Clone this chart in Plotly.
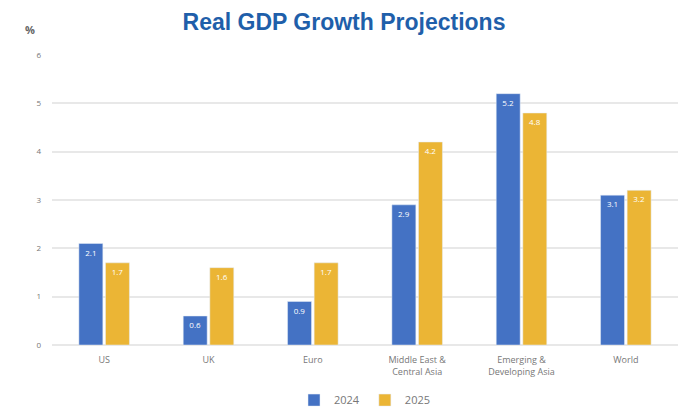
import plotly.graph_objects as go

categories = ["US", "UK", "Euro", "Middle East &<br>Central Asia", "Emerging &<br>Developing Asia", "World"]
growth_2024 = [2.1, 0.6, 0.9, 2.9, 5.2, 3.1]
growth_2025 = [1.7, 1.6, 1.7, 4.2, 4.8, 3.2]
y_ticks = [0, 1, 2, 3, 4, 5, 6]

fig = go.Figure()
fig.add_trace(go.Bar(
    x=categories, y=growth_2024, name="2024", marker_color="#4472C4",
    text=[f"{v:.1f}" for v in growth_2024], textposition="inside",
    insidetextanchor="end", textfont=dict(color="white", size=8, family="Open Sans"),
))
fig.add_trace(go.Bar(
    x=categories, y=growth_2025, name="2025", marker_color="#EBB535",
    text=[f"{v:.1f}" for v in growth_2025], textposition="inside",
    insidetextanchor="end", textfont=dict(color="white", size=8, family="Open Sans"),
))

fig.update_layout(
    width=688, height=407,
    margin=dict(l=52, r=10, t=55, b=62, autoexpand=False),
    paper_bgcolor="white", plot_bgcolor="white",
    barmode="group", bargap=0.49, bargroupgap=0.1,
    title=dict(text="<b>Real GDP Growth Projections</b>", x=0.5, xanchor="center",
               y=0.945, yanchor="middle",
               font=dict(family="Liberation Sans", size=23, color="#1F5FAA")),
    font=dict(family="Open Sans", color="#777777", size=9),
    legend=dict(orientation="h", x=0.5, xanchor="center", y=-0.24, yanchor="bottom",
                font=dict(size=11, color="#777777"), itemwidth=30,
                traceorder="normal"),
    uniformtext=dict(minsize=7, mode="show"),
)
fig.update_yaxes(range=[0, 6], tickvals=y_ticks, showgrid=True, gridcolor="#E8E8E8",
                 gridwidth=1.5, zeroline=True, zerolinecolor="#E8E8E8", ticks="",
                 tickfont=dict(size=8, color="#777777"), ticklabelstandoff=10,
                 automargin=False)
fig.update_xaxes(showline=False, ticks="", tickfont=dict(size=9, color="#777777"),
                 ticklabelstandoff=8, automargin=False)
fig.add_annotation(text="<b>%</b>", x=(30 - 52) / 626, y=1 + (55 - 30) / 290,
                   xref="paper", yref="paper", xanchor="center", yanchor="middle",
                   showarrow=False, font=dict(size=11, color="#666666"))

fig.write_html("out.html")
